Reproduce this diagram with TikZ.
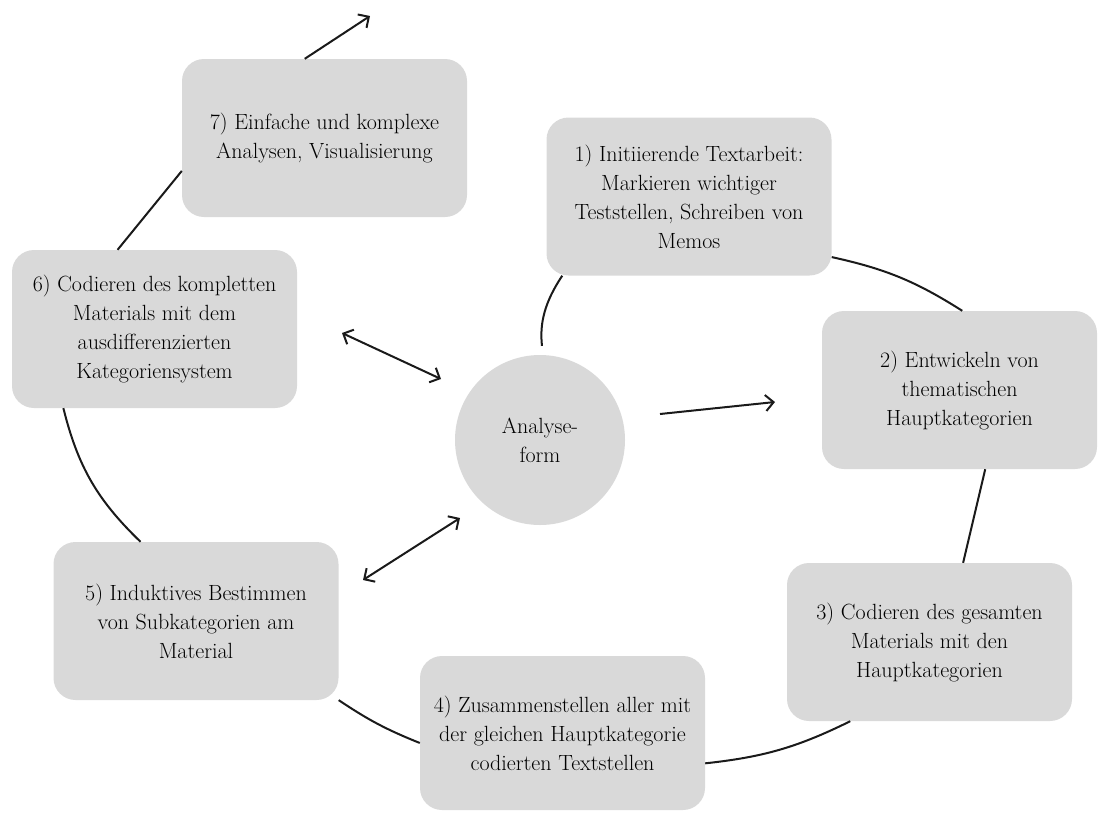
\documentclass[tikz,border=0pt]{standalone}
\usetikzlibrary{arrows.meta}
\definecolor{boxgray}{HTML}{D9D9D9}
\definecolor{linecol}{HTML}{1A1A1A}
\begin{document}
\begin{tikzpicture}[x=1pt,y=-1pt,
  stepbox/.style={fill=boxgray, rounded corners=22pt, minimum width=285pt, minimum height=158pt, inner sep=0pt, align=center, font=\fontsize{22}{29}\selectfont, text=black},
  hub/.style={fill=boxgray, circle, minimum size=170pt, inner sep=0pt, align=center, font=\fontsize{22}{29}\selectfont, text=black},
  link/.style={draw=linecol, line width=2pt},
  tip/.style={link, -{Straight Barb[length=8pt,width=16pt]}},
  dtip/.style={link, {Straight Barb[length=8pt,width=16pt]}-{Straight Barb[length=8pt,width=16pt]}}]
\useasboundingbox (0,0) rectangle (1098,812);

\node[stepbox] (b7) at (324.5,138) {7) Einfache und komplexe\\Analysen, Visualisierung};
\node[stepbox] (b1) at (689,196.5) {1) Initiierende Textarbeit:\\Markieren wichtiger\\Teststellen, Schreiben von\\Memos};
\node[stepbox] (b6) at (154.5,329) {6) Codieren des kompletten\\Materials mit dem\\ausdifferenzierten\\Kategoriensystem};
\node[stepbox, minimum width=275pt] (b2) at (959.5,390) {2) Entwickeln von\\thematischen\\Hauptkategorien};
\node[stepbox] (b3) at (929.5,642) {3) Codieren des gesamten\\Materials mit den\\Hauptkategorien};
\node[stepbox, minimum height=154pt] (b4) at (562.5,733) {4) Zusammenstellen aller mit\\der gleichen Hauptkategorie\\codierten Textstellen};
\node[stepbox] (b5) at (196,621) {5) Induktives Bestimmen\\von Subkategorien am\\Material};
\node[hub] (c) at (540,440) {Analyse-\\form};

\coordinate (top) at (370,16);
\coordinate (d6a) at (342,333);
\coordinate (d6b) at (441,379);
\coordinate (d5a) at (363,580);
\coordinate (d5b) at (460,518);
\coordinate (r2a) at (660,414);
\coordinate (r2b) at (775,402);

\draw[tip] (b7.104) -- (top);
\draw[link] (b7.193) -- (b6.115);
\draw[link, shorten <=9pt] (c.88) to[bend left=20] (b1.212);
\draw[link] (b1.337) to[bend left=10] (b2.88);
\draw[link] (b2.288) -- (b3.67);
\draw[link] (b3.225) to[bend left=10] (b4.348);
\draw[link] (b4.184) to[bend left=6] (b5.331);
\draw[link] (b5.125) to[bend left=16] (b6.221);

\draw[dtip] (d6a) -- (d6b);
\draw[dtip] (d5a) -- (d5b);
\draw[tip] (r2a) -- (r2b);
\end{tikzpicture}
\end{document}
